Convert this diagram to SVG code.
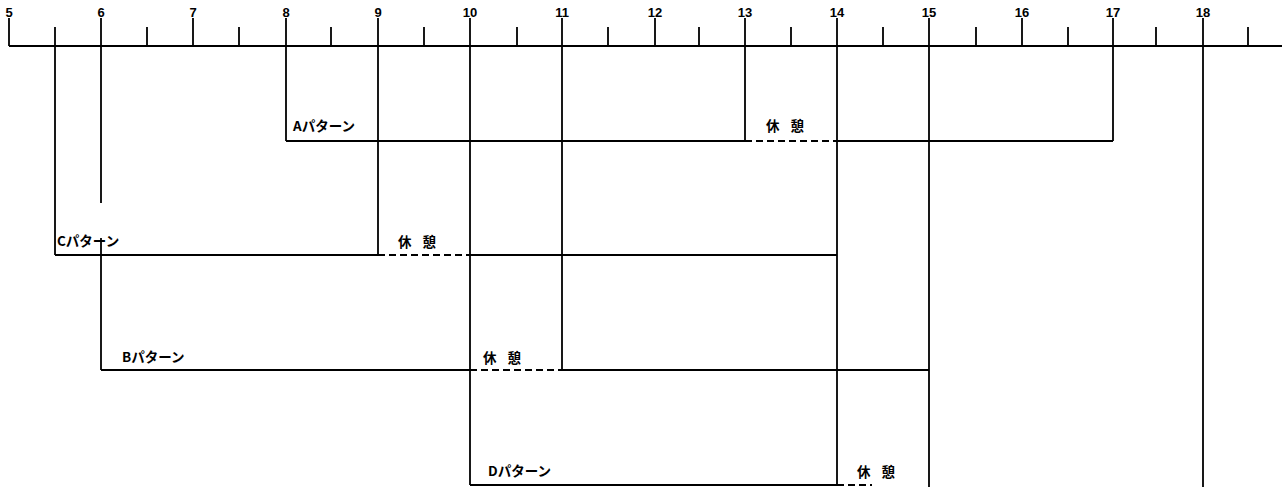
<svg xmlns="http://www.w3.org/2000/svg" width="1282" height="496" viewBox="0 0 1282 496">
<style>
.bg{fill:#fff}
.ln{stroke:#000;stroke-width:1.8;fill:none}
.ds{stroke:#000;stroke-width:1.8;fill:none;stroke-dasharray:7 4}
.hr{font-family:"Liberation Sans",Arial,sans-serif;font-weight:bold;font-size:13px;text-anchor:middle;fill:#000}
.lb{font-family:"Noto Sans CJK JP","Noto Sans",sans-serif;font-weight:bold;font-size:13.5px;fill:#000}
.rs{font-family:"Noto Sans CJK JP","Noto Sans",sans-serif;font-weight:bold;font-size:13.5px;fill:#000;word-spacing:8px}
</style>
<rect class="bg" x="0" y="0" width="1282" height="496"/>
<g id="axis">
<path class="ln" d="M9 46H1282"/>
<path class="ln" d="M9 18V46M193 18V46M655 18V46M1022 18V46"/>
<path class="ln" d="M147 27V46M239 27V46M331 27V46M424 27V46M517 27V46M608 27V46M699 27V46M791 27V46M883 27V46M976 27V46M1068 27V46M1156 27V46M1248 27V46"/>
<g class="hr">
<text x="9" y="17">5</text>
<text x="101" y="17">6</text>
<text x="193" y="17">7</text>
<text x="286" y="17">8</text>
<text x="378" y="17">9</text>
<text x="470" y="17">10</text>
<text x="562" y="17">11</text>
<text x="655" y="17">12</text>
<text x="745" y="17">13</text>
<text x="837" y="17">14</text>
<text x="929" y="17">15</text>
<text x="1022" y="17">16</text>
<text x="1113" y="17">17</text>
<text x="1203" y="17">18</text>
</g>
</g>
<g id="connectors">
<path class="ln" d="M55 27V255M101 18V203M286 18V141M378 18V255M470 18V485M562 18V370M745 18V141M837 18V485M929 18V487M1113 18V141M1203 18V487"/>
<path class="ln" d="M101 238V370"/>
</g>
<g id="pattern-a">
<path class="ln" d="M286 141H745M837 141H1113"/>
<path class="ds" d="M745 141H837"/>
<text class="lb" x="293" y="131">Aパターン</text>
<text class="rs" x="766" y="131">休 憩</text>
</g>
<g id="pattern-c">
<path class="ln" d="M55 255H378M470 255H837"/>
<path class="ds" d="M378 255H470"/>
<text class="lb" x="57" y="246">Cパターン</text>
<text class="rs" x="398" y="247">休 憩</text>
</g>
<g id="pattern-b">
<path class="ln" d="M101 370H470M562 370H929"/>
<path class="ds" d="M470 370H562"/>
<text class="lb" x="122" y="362">Bパターン</text>
<text class="rs" x="483" y="363">休 憩</text>
</g>
<g id="pattern-d">
<path class="ln" d="M470 485H837"/>
<path class="ds" d="M837 485H872"/>
<text class="lb" x="488" y="476">Dパターン</text>
<text class="rs" x="857" y="477">休 憩</text>
</g>
</svg>
